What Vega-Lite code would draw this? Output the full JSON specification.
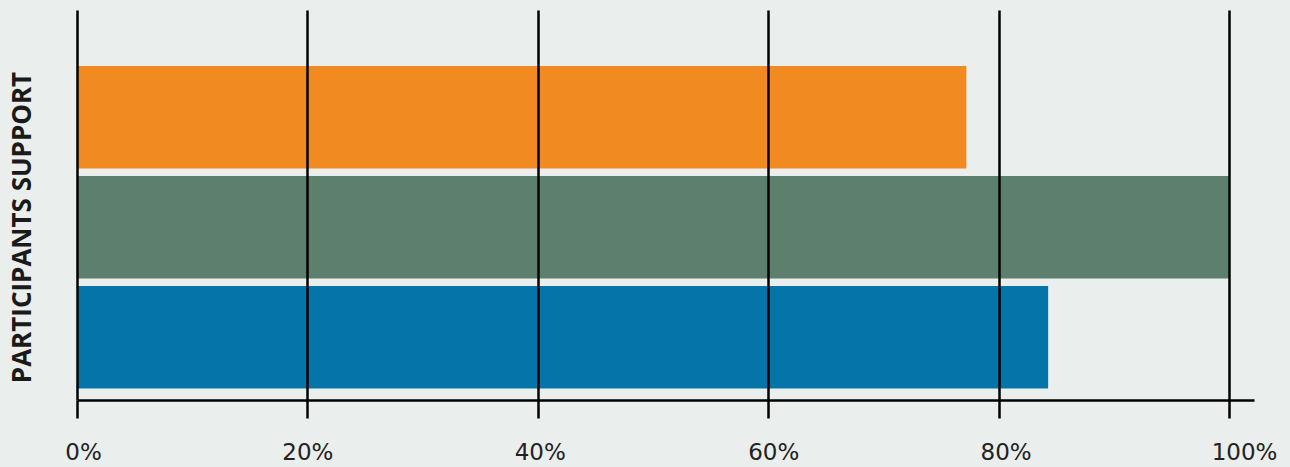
{
  "$schema": "https://vega.github.io/schema/vega-lite/v6.json",
  "width": 1177,
  "height": 390,
  "autosize": {"type": "none"},
  "padding": {"left": 77, "top": 10, "right": 36, "bottom": 67},
  "background": "#eaeeed",
  "config": {"view": {"stroke": null}, "font": "Open Sans"},
  "data": {
    "values": [
      {"group": "Orange", "support": 0.772},
      {"group": "Green", "support": 1.0},
      {"group": "Blue", "support": 0.843}
    ]
  },
  "mark": {"type": "bar"},
  "encoding": {
    "y": {
      "field": "group",
      "type": "nominal",
      "sort": null,
      "scale": {"paddingInner": 0.068, "paddingOuter": 0.307, "align": 0.83},
      "axis": {
        "title": "PARTICIPANTS SUPPORT",
        "domain": false,
        "ticks": false,
        "labels": false,
        "grid": false,
        "titleFont": "Open Sans",
        "titleFontWeight": "bold",
        "titleFontSize": 26,
        "titleColor": "#1a1a1a",
        "titleAngle": -90,
        "titleAlign": "center",
        "titleBaseline": "middle",
        "titleX": -55,
        "titleY": 217
      }
    },
    "x": {
      "field": "support",
      "type": "quantitative",
      "scale": {"domain": [0, 1.0217], "nice": false},
      "axis": {
        "title": null,
        "values": [0, 0.2, 0.4, 0.6, 0.8, 1.0],
        "format": ".0%",
        "grid": true,
        "gridColor": "#000000",
        "gridWidth": 2.5,
        "gridOpacity": 1,
        "domainColor": "#000000",
        "domainWidth": 2.5,
        "tickColor": "#000000",
        "tickWidth": 2.5,
        "tickSize": 18,
        "labelFontSize": 23,
        "labelColor": "#222222",
        "labelPadding": 23,
        "labelFont": "DejaVu Sans",
        "labelFlush": false,
        "labelOverlap": false,
        "labelOffset": {"expr": "datum.value == 1 ? 15 : datum.value == 0 ? 6 : datum.value > 0.7 ? 7 : datum.value > 0.5 ? 5 : datum.value > 0.3 ? 2 : 0"},
        "zindex": 1
      }
    },
    "color": {
      "field": "group",
      "type": "nominal",
      "scale": {"domain": ["Orange", "Green", "Blue"], "range": ["#f18a21", "#5d7f6e", "#0575a9"]},
      "legend": null
    }
  }
}
